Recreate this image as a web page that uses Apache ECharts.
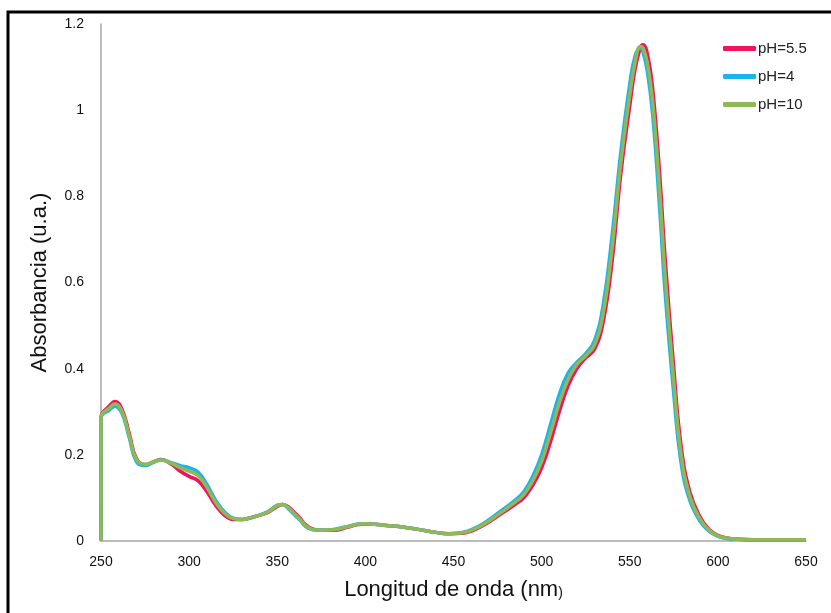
<!DOCTYPE html>
<html>
<head>
<meta charset="utf-8">
<script src="https://cdn.jsdelivr.net/npm/echarts@6/dist/echarts.min.js"></script>
<style>
  html, body { margin: 0; padding: 0; background: #fff; }
  #chart { width: 831px; height: 613px; }
</style>
</head>
<body>
<div id="chart"></div>
<script>
// wavelength (nm)
var wavelengths = [250, 250, 255, 258, 262, 266, 270, 275, 280, 284,
  290, 295, 300, 305, 310, 315, 320, 325, 330, 335,
  340, 345, 350, 353, 356, 360, 363, 366, 370, 375,
  382, 390, 398, 405, 412, 420, 430, 440, 447, 455,
  465, 476, 485, 490, 495, 500, 505, 510, 515, 520,
  525, 530, 535, 540, 545, 550, 553, 556, 557.5, 560,
  563, 567, 570, 575, 579, 584, 590, 595, 600, 605,
  612, 620, 635, 650];

var seriesNames = ['pH=5.5', 'pH=4', 'pH=10'];

var absPH55 = [0, 0.285, 0.315, 0.324, 0.305, 0.25, 0.192, 0.177, 0.184, 0.189,
  0.178, 0.162, 0.15, 0.14, 0.115, 0.083, 0.06, 0.05, 0.05, 0.054,
  0.06, 0.067, 0.08, 0.085, 0.08, 0.065, 0.053, 0.038, 0.028, 0.025,
  0.025, 0.032, 0.039, 0.039, 0.036, 0.033, 0.027, 0.02, 0.017, 0.018,
  0.032, 0.06, 0.085, 0.101, 0.13, 0.17, 0.23, 0.30, 0.36, 0.40,
  0.425, 0.445, 0.51, 0.65, 0.855, 1.01, 1.095, 1.145, 1.152, 1.13,
  1.05, 0.85, 0.66, 0.4, 0.225, 0.115, 0.055, 0.027, 0.013, 0.007,
  0.004, 0.003, 0.003, 0.003];

var absPH4 = [0, 0.285, 0.305, 0.313, 0.295, 0.24, 0.185, 0.175, 0.183, 0.188,
  0.182, 0.175, 0.17, 0.16, 0.132, 0.095, 0.068, 0.053, 0.05, 0.054,
  0.06, 0.069, 0.083, 0.085, 0.076, 0.06, 0.048, 0.034, 0.026, 0.025,
  0.027, 0.034, 0.04, 0.039, 0.036, 0.033, 0.027, 0.02, 0.017, 0.02,
  0.036, 0.067, 0.095, 0.115, 0.15, 0.2, 0.27, 0.34, 0.39, 0.415,
  0.435, 0.465, 0.55, 0.71, 0.905, 1.06, 1.125, 1.145, 1.135, 1.09,
  0.99, 0.77, 0.58, 0.34, 0.185, 0.095, 0.045, 0.023, 0.011, 0.006,
  0.004, 0.003, 0.003, 0.003];

var absPH10 = [0, 0.285, 0.31, 0.318, 0.30, 0.245, 0.19, 0.178, 0.184, 0.188,
  0.18, 0.17, 0.162, 0.152, 0.125, 0.09, 0.065, 0.052, 0.05, 0.054,
  0.06, 0.068, 0.082, 0.085, 0.078, 0.062, 0.05, 0.036, 0.027, 0.025,
  0.026, 0.033, 0.04, 0.039, 0.036, 0.033, 0.027, 0.02, 0.017, 0.019,
  0.034, 0.063, 0.09, 0.108, 0.14, 0.185, 0.25, 0.32, 0.375, 0.41,
  0.43, 0.455, 0.53, 0.68, 0.88, 1.035, 1.11, 1.148, 1.145, 1.11,
  1.02, 0.81, 0.62, 0.37, 0.205, 0.105, 0.05, 0.025, 0.012, 0.007,
  0.004, 0.003, 0.003, 0.003];

var colors = ['#f0145e', '#1cb4ea', '#8fb857'];
var FONT = '"Liberation Sans", Arial, sans-serif';

function pairs(vals){
  return wavelengths.map(function(w, i){ return [w, vals[i]]; });
}

function lineSeries(name, vals, color, z){
  return {
    name: name,
    type: 'line',
    data: pairs(vals),
    smooth: 0.45,
    showSymbol: false,
    z: z,
    lineStyle: { width: 3.5, color: color, join: 'round' },
    itemStyle: { color: color },
    emphasis: { disabled: true }
  };
}

var chart = echarts.init(document.getElementById('chart'), null, { renderer: 'canvas' });
chart.setOption({
  animation: false,
  color: colors,
  grid: { left: 101, right: 25, top: 24, bottom: 72, containLabel: false },
  graphic: [{
    type: 'rect',
    shape: { x: 8, y: 12, width: 900, height: 700 },
    style: { fill: 'none', stroke: '#000', lineWidth: 3 },
    silent: true
  }],
  legend: {
    orient: 'vertical',
    left: 718,
    top: 36,
    itemGap: 13,
    itemWidth: 33,
    itemHeight: 5,
    icon: 'roundRect',
    data: seriesNames,
    textStyle: { fontFamily: FONT, fontSize: 15, color: '#222', padding: [0, 0, 0, -3] }
  },
  xAxis: {
    type: 'value',
    min: 250, max: 650, interval: 50,
    name: 'Longitud de onda (nm{s|)}',
    nameLocation: 'middle',
    nameGap: 38,
    nameTextStyle: {
      fontFamily: FONT, fontSize: 22, color: '#111',
      rich: { s: { fontFamily: FONT, fontSize: 14, color: '#111', verticalAlign: 'bottom', padding: [0, 0, 1, 0] } }
    },
    axisLine: { show: true, lineStyle: { color: '#a6a6a6', width: 1.5 } },
    axisTick: { show: false },
    splitLine: { show: false },
    axisLabel: { fontFamily: FONT, fontSize: 14, color: '#111', margin: 14 }
  },
  yAxis: {
    type: 'value',
    min: 0, max: 1.2, interval: 0.2,
    name: 'Absorbancia (u.a.)',
    nameLocation: 'middle',
    nameGap: 50,
    nameTextStyle: { fontFamily: FONT, fontSize: 22, color: '#111' },
    axisLine: { show: true, lineStyle: { color: '#a6a6a6', width: 1.5 } },
    axisTick: { show: false },
    splitLine: { show: false },
    axisLabel: {
      fontFamily: FONT, fontSize: 14, color: '#111', margin: 17,
      formatter: function(v){ return String(Math.round(v * 10) / 10); }
    }
  },
  series: [
    lineSeries(seriesNames[0], absPH55, colors[0], 2),
    lineSeries(seriesNames[1], absPH4, colors[1], 3),
    lineSeries(seriesNames[2], absPH10, colors[2], 4)
  ]
});
</script>
</body>
</html>
